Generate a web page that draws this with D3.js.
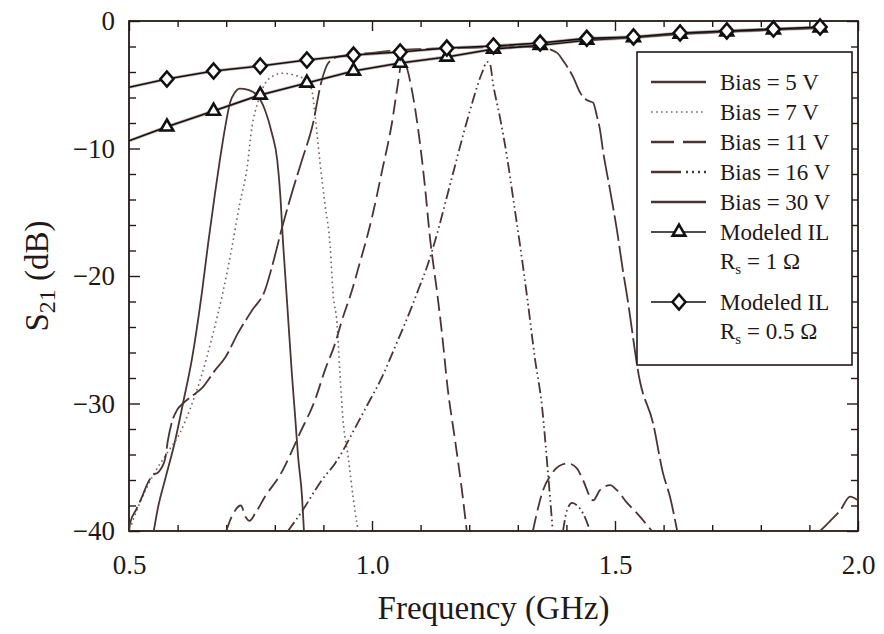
<!DOCTYPE html>
<html>
<head>
<meta charset="utf-8">
<script src="https://cdn.jsdelivr.net/npm/d3@7/dist/d3.min.js"></script>
<style>
  body { margin: 0; background: #fff; }
  svg text { font-family: "Liberation Serif", "Times New Roman", serif; fill: #231818; }
</style>
</head>
<body>
<svg id="chart" width="884" height="634"></svg>
<script>
// ---- axis ticks ----
const xMajorTicks = [0.5, 1.0, 1.5, 2.0];
const xMinorTicks = [0.6, 0.7, 0.8, 0.9, 1.1, 1.2, 1.3, 1.4, 1.6, 1.7, 1.8, 1.9];
const yMajorTicks = [0, -10, -20, -30, -40];
const yMinorTicks = [-2, -4, -6, -8, -12, -14, -16, -18, -22, -24, -26, -28, -32, -34, -36, -38];

// ---- measured S21 for each bias (GHz, dB); null breaks the trace ----
const bias5Freq = [0.551,0.560,0.574,0.595,0.611,0.630,0.650,0.663,0.677,0.687,0.698,0.708,0.718,0.728,0.745,0.763,0.780,0.794,0.805,0.811,0.817,0.825,0.835,0.842,0.848,0.856,0.860];
const bias5Db   = [-40,-38.1,-36.0,-32.9,-30.0,-26.4,-21.3,-17.4,-13.5,-10.9,-8.3,-6.4,-5.6,-5.3,-5.4,-5.8,-7.0,-8.8,-10.9,-13.5,-17.4,-21.9,-27.6,-31.1,-34.2,-37.3,-40];

const bias7Freq = [0.505,0.520,0.550,0.580,0.605,0.625,0.646,0.673,0.693,0.712,0.728,0.743,0.753,0.765,0.786,0.815,0.835,0.862,0.876,0.883,0.893,0.903,0.914,0.920,0.928,0.934,0.940,0.951,0.961,0.969,0.972];
const bias7Db   = [-39.5,-38.0,-35.6,-33.8,-32.3,-30.5,-28.2,-24.5,-21.3,-17.7,-14.3,-11.5,-8.3,-6.4,-4.6,-4.1,-4.2,-4.6,-5.4,-7.5,-11.1,-14.3,-17.7,-21.4,-23.7,-27.6,-31.1,-34.2,-37.3,-39.4,-40];

const bias11Freq = [0.700,0.715,0.730,0.740,0.748,0.760,0.780,0.811,0.852,0.883,0.903,0.924,0.938,0.959,0.971,1.000,1.021,1.041,1.053,1.062,1.070,1.082,1.095,1.109,1.119,1.134,1.144,1.156,1.171,1.185,1.195,
                    1.260,
                    1.331,1.352,1.370,1.385,1.403,1.422,1.434,1.455,1.469,1.490,1.504,1.525,1.545,1.576];
const bias11Db   = [-40,-38.6,-38.0,-38.9,-39.2,-38.6,-37.3,-35.6,-32.3,-29.7,-27.4,-25.3,-23.5,-21.1,-19.5,-15.4,-11.7,-8.0,-5.0,-3.1,-3.5,-5.4,-8.5,-13.0,-16.9,-21.3,-24.5,-28.9,-32.9,-36.8,-40,
                    null,
                    -40,-36.8,-35.5,-34.9,-34.7,-35.1,-36.0,-37.6,-36.8,-36.4,-36.8,-37.8,-38.6,-40];

const bias16Freq = [0.827,0.862,0.883,0.897,0.924,0.971,0.992,1.021,1.047,1.082,1.095,1.113,1.136,1.154,1.165,1.198,1.226,1.237,1.243,1.249,1.263,1.278,1.290,1.305,1.319,1.335,1.350,1.362,1.372,
                    1.383,
                    1.393,1.401,1.412,1.422,1.434,1.449];
const bias16Db   = [-40,-38.1,-36.8,-36.0,-34.7,-31.5,-30.0,-27.9,-25.6,-22.4,-21.1,-19.3,-16.4,-13.8,-12.2,-7.5,-4.1,-3.2,-3.4,-4.9,-7.5,-10.7,-13.8,-17.7,-21.6,-26.4,-30.3,-35.4,-40,
                    null,
                    -40,-38.4,-37.8,-38.0,-38.6,-40];

const bias30Freq = [0.500,0.502,0.515,0.527,0.539,0.550,0.560,0.574,0.580,0.588,0.599,0.611,0.630,0.650,0.677,0.698,0.724,0.753,0.780,0.794,0.815,0.835,0.856,0.877,0.897,0.910,0.930,0.970,1.000,1.050,1.100,1.200,1.300,1.350,1.381,1.393,1.414,1.428,1.442,1.455,1.463,1.469,1.475,1.490,1.504,1.516,1.525,1.551,1.578,1.599,1.613,1.628,
                    1.800,
                    1.922,1.943,1.963,1.984,2.000];
const bias30Db   = [-40,-39.4,-38.3,-37.3,-36.2,-35.6,-35.4,-34.4,-32.9,-31.5,-30.5,-30.0,-29.4,-28.8,-27.4,-26.4,-24.5,-22.7,-21.1,-19.3,-16.2,-13.5,-10.9,-8.3,-4.6,-3.3,-2.8,-2.6,-2.5,-2.3,-2.2,-2.1,-2.0,-2.1,-2.5,-3.1,-4.4,-5.6,-6.2,-6.4,-7.5,-8.5,-10.1,-13.3,-16.4,-19.5,-21.6,-28.2,-31.5,-35.5,-37.3,-40,
                    null,
                    -40,-39.2,-38.4,-37.3,-37.6];

// ---- modeled insertion loss (first point is the left edge, unmarked) ----
const ilFreq   = [0.500,0.578,0.674,0.770,0.866,0.962,1.058,1.154,1.250,1.346,1.442,1.538,1.634,1.730,1.826,1.922];
const ilRs1Db  = [-9.4,-8.3,-7.06,-5.8,-4.86,-3.92,-3.3,-2.82,-2.2,-1.9,-1.5,-1.3,-1.02,-0.84,-0.68,-0.54];
const ilRs05Db = [-5.2,-4.55,-3.92,-3.53,-3.06,-2.67,-2.43,-2.12,-1.96,-1.73,-1.36,-1.25,-0.94,-0.78,-0.63,-0.47];

const legendLabels = ["Bias = 5 V", "Bias = 7 V", "Bias = 11 V", "Bias = 16 V", "Bias = 30 V"];

// ---- layout ----
const serif = "'Liberation Serif', 'Times New Roman', serif";
const svg = d3.select("#chart");
const plot = { left: 129, right: 858, top: 21, bottom: 531 };
const x = d3.scaleLinear().domain([0.5, 2.0]).range([plot.left, plot.right]);
const y = d3.scaleLinear().domain([-40, 0]).range([plot.bottom, plot.top]);

const ink = "#241919";
const traceColor = "#4a3535";

svg.append("defs").append("clipPath").attr("id", "plotClip")
  .append("rect")
  .attr("x", plot.left).attr("y", plot.top)
  .attr("width", plot.right - plot.left).attr("height", plot.bottom - plot.top);

// ---- axes with inward ticks on all four sides ----
function tickAxis(axisGen, transform, ticks, size, labels) {
  const g = svg.append("g").attr("transform", transform)
    .call(axisGen.tickValues(ticks).tickSizeInner(size).tickSizeOuter(0)
      .tickPadding(labels ? 14 : 0)
      .tickFormat(labels ? d3.format(".1f") : () => ""));
  g.attr("font-family", serif);
  g.select(".domain").remove();
  g.selectAll(".tick line").attr("stroke", ink).attr("stroke-width", 1.4);
  return g;
}
// bottom
const xb = tickAxis(d3.axisBottom(x), `translate(0,${plot.bottom})`, xMajorTicks, -10, true);
xb.selectAll(".tick text").attr("font-size", 27).attr("dy", "0.9em").attr("fill", ink)
  .attr("font-family", serif).attr("transform", "translate(0,5)");
tickAxis(d3.axisBottom(x), `translate(0,${plot.bottom})`, xMinorTicks, -6, false);
// top
tickAxis(d3.axisTop(x), `translate(0,${plot.top})`, xMajorTicks, -10, false);
tickAxis(d3.axisTop(x), `translate(0,${plot.top})`, xMinorTicks, -6, false);
// left
const yl = tickAxis(d3.axisLeft(y), `translate(${plot.left},0)`, yMajorTicks, -11, true);
yl.selectAll(".tick text").attr("font-size", 27).attr("fill", ink).attr("font-family", serif)
  .text(d => d3.format("d")(d));
tickAxis(d3.axisLeft(y), `translate(${plot.left},0)`, yMinorTicks, -7, false);
// right
tickAxis(d3.axisRight(y), `translate(${plot.right},0)`, yMajorTicks, -11, false);
tickAxis(d3.axisRight(y), `translate(${plot.right},0)`, yMinorTicks, -7, false);

// frame
svg.append("rect")
  .attr("x", plot.left).attr("y", plot.top)
  .attr("width", plot.right - plot.left).attr("height", plot.bottom - plot.top)
  .attr("fill", "none").attr("stroke", ink).attr("stroke-width", 1.8);

// ---- axis titles ----
svg.append("text")
  .attr("x", (plot.left + plot.right) / 2).attr("y", 619)
  .attr("text-anchor", "middle").attr("font-size", 33).attr("fill", ink)
  .attr("font-family", serif)
  .text("Frequency (GHz)");

const yTitle = svg.append("text")
  .attr("transform", `translate(48,${(plot.top + plot.bottom) / 2}) rotate(-90)`)
  .attr("text-anchor", "middle").attr("font-size", 33).attr("fill", ink)
  .attr("font-family", serif);
yTitle.append("tspan").text("S");
yTitle.append("tspan").attr("font-size", 24).attr("dy", 7).text("21");
yTitle.append("tspan").attr("dy", -7).text(" (dB)");

// ---- traces ----
const series = [
  { freq: bias5Freq,  db: bias5Db,  dash: null,                     color: traceColor, width: 1.8 },
  { freq: bias7Freq,  db: bias7Db,  dash: "1.6,3.4",                color: "#7a6262",  width: 1.6 },
  { freq: bias11Freq, db: bias11Db, dash: "15,6",                   color: traceColor, width: 1.8 },
  { freq: bias16Freq, db: bias16Db, dash: "11,3.5,1.6,3.5,1.6,3.5", color: traceColor, width: 1.8 },
  { freq: bias30Freq, db: bias30Db, dash: "26,5",                   color: traceColor, width: 1.8 }
];

const traceLine = d3.line()
  .defined(d => d.db !== null)
  .x(d => x(d.f)).y(d => y(d.db))
  .curve(d3.curveMonotoneX);

const traces = svg.append("g").attr("clip-path", "url(#plotClip)");
series.forEach(s => {
  const pts = s.freq.map((f, i) => ({ f, db: s.db[i] }));
  traces.append("path")
    .attr("d", traceLine(pts))
    .attr("fill", "none")
    .attr("stroke", s.color)
    .attr("stroke-width", s.width)
    .attr("stroke-dasharray", s.dash)
    .attr("stroke-linejoin", "round");
});

// ---- modeled insertion loss ----
const ilLine = d3.line().x(d => x(d.f)).y(d => y(d.db));
const triangle = d3.symbol().type(d3.symbolTriangle).size(70);
const diamond = "M0,-7.5L6.5,0L0,7.5L-6.5,0Z";

function drawModel(values, shape) {
  const pts = ilFreq.map((f, i) => ({ f, db: values[i] }));
  traces.append("path")
    .attr("d", ilLine(pts))
    .attr("fill", "none").attr("stroke", "#8a7070").attr("stroke-width", 3.2).attr("opacity", 0.55);
  traces.append("path")
    .attr("d", ilLine(pts))
    .attr("fill", "none").attr("stroke", "#111").attr("stroke-width", 1.6);
  svg.append("g").selectAll("path")
    .data(pts.slice(1))
    .join("path")
    .attr("transform", d => `translate(${x(d.f)},${y(d.db)})`)
    .attr("d", shape)
    .attr("fill", "#fff").attr("stroke", "#111").attr("stroke-width", 2.6);
}
drawModel(ilRs1Db, triangle());
drawModel(ilRs05Db, diamond);

// ---- legend ----
const lg = svg.append("g").attr("font-family", serif);
lg.append("rect")
  .attr("x", 637).attr("y", 52).attr("width", 215).attr("height", 313)
  .attr("fill", "#fff").attr("stroke", ink).attr("stroke-width", 1.6);

const legendDash = [null, "1.6,3.4", "23,9", "30,5,2,4,2,4,2,4", null];
const rowY = [82, 112, 142, 172, 202];
legendLabels.forEach((label, i) => {
  lg.append("line")
    .attr("x1", 651).attr("x2", 706).attr("y1", rowY[i]).attr("y2", rowY[i])
    .attr("stroke", series[i].color).attr("stroke-width", i === 1 ? 1.6 : 2.4)
    .attr("stroke-dasharray", legendDash[i]);
  lg.append("text")
    .attr("x", 720).attr("y", rowY[i]).attr("dy", "0.35em")
    .attr("font-size", 23).attr("fill", ink).text(label);
});

function legendModel(yRow, shape, sub) {
  lg.append("line").attr("x1", 651).attr("x2", 706).attr("y1", yRow).attr("y2", yRow)
    .attr("stroke", "#111").attr("stroke-width", 1.6);
  lg.append("path").attr("transform", `translate(679,${yRow})`).attr("d", shape)
    .attr("fill", "#fff").attr("stroke", "#111").attr("stroke-width", 2.6);
  lg.append("text").attr("x", 720).attr("y", yRow).attr("dy", "0.35em")
    .attr("font-size", 23).attr("fill", ink).text("Modeled IL");
  const t = lg.append("text").attr("x", 720).attr("y", yRow + 29).attr("dy", "0.35em")
    .attr("font-size", 23).attr("fill", ink);
  t.append("tspan").text("R");
  t.append("tspan").attr("font-size", 15).attr("dy", 5).text("s");
  t.append("tspan").attr("dy", -5).text(" = " + sub + " \u03A9");
}
legendModel(232, triangle(), "1");
legendModel(302, diamond, "0.5");
</script>
</body>
</html>
